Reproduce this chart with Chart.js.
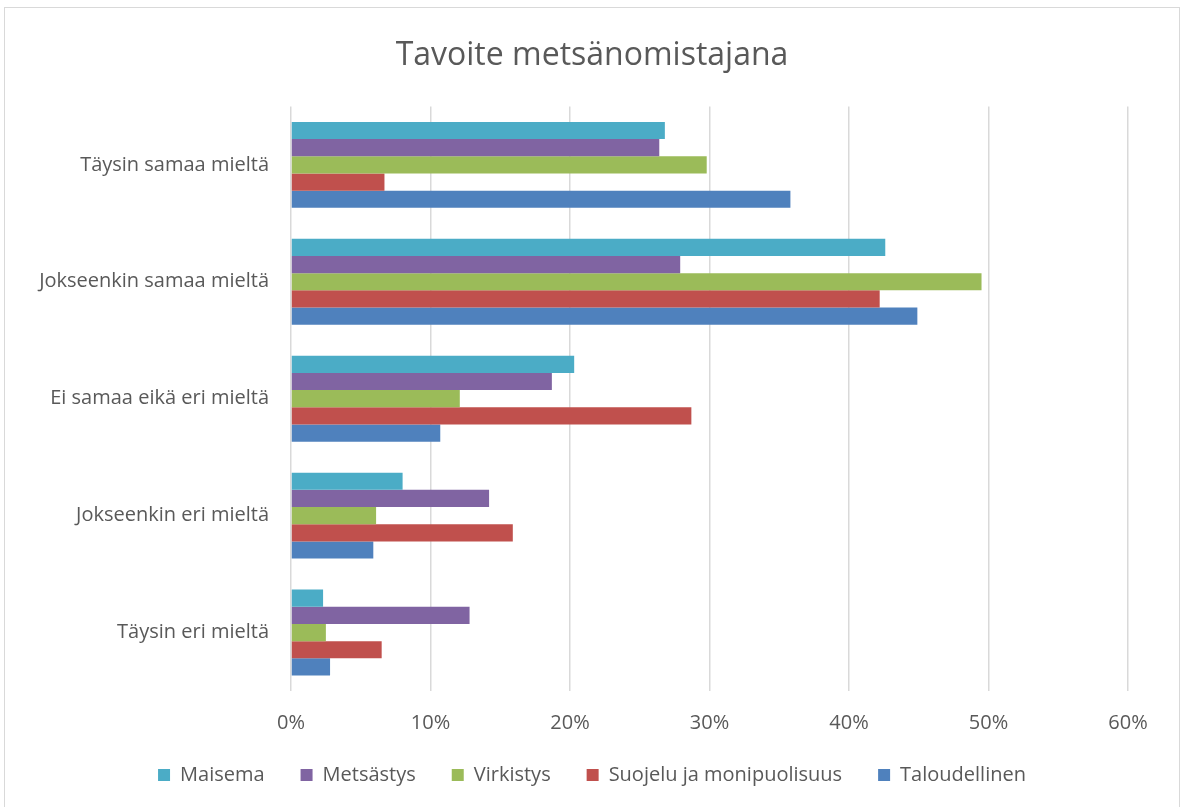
<!DOCTYPE html>
<html>
<head>
<meta charset="utf-8">
<script src="https://cdn.jsdelivr.net/npm/chart.js@4"></script>
<style>
  html, body { margin: 0; padding: 0; background: #fff; }
  #frame { position: absolute; left: 4px; top: 7px; width: 1174px; height: 820px; border: 1px solid #d9d9d9; }
  #wrap { position: absolute; left: 0; top: 0; width: 1184px; height: 807px; }
</style>
</head>
<body>
<div id="frame"></div>
<div id="wrap"><canvas id="chart"></canvas></div>
<script>
// answer categories, top to bottom
const categories = ['Täysin samaa mieltä', 'Jokseenkin samaa mieltä', 'Ei samaa eikä eri mieltä', 'Jokseenkin eri mieltä', 'Täysin eri mieltä'];
// percent of respondents per goal
const maisema = [26.8, 42.6, 20.3, 8.0, 2.3];
const metsastys = [26.4, 27.9, 18.7, 14.2, 12.8];
const virkistys = [29.8, 49.5, 12.1, 6.1, 2.5];
const suojelu = [6.7, 42.2, 28.7, 15.9, 6.5];
const taloudellinen = [35.8, 44.9, 10.7, 5.9, 2.8];
const xTicks = [0, 10, 20, 30, 40, 50, 60];

const textColor = '#595959';
const font = '"Open Sans", sans-serif';

function series(label, data, color) {
    return { label: label, data: data, backgroundColor: color, borderWidth: 0 };
}

const ctx = document.getElementById('chart').getContext('2d');
new Chart(ctx, {
    type: 'bar',
    data: {
        labels: categories,
        datasets: [
            series('Maisema', maisema, '#4bacc6'),
            series('Metsästys', metsastys, '#8064a2'),
            series('Virkistys', virkistys, '#9bbb59'),
            series('Suojelu ja monipuolisuus', suojelu, '#c0504d'),
            series('Taloudellinen', taloudellinen, '#4f81bd')
        ]
    },
    options: {
        indexAxis: 'y',
        responsive: true,
        maintainAspectRatio: false,
        animation: false,
        layout: { padding: { left: 0, right: 0, top: 0, bottom: 12 } },
        datasets: { bar: { categoryPercentage: 0.735, barPercentage: 1.0 } },
        scales: {
            x: {
                min: 0,
                max: 60,
                afterBuildTicks: function (axis) {
                    axis.ticks = xTicks.map(v => ({ value: v }));
                },
                ticks: {
                    color: textColor,
                    font: { family: font, size: 20 },
                    padding: 20,
                    callback: v => v + '%'
                },
                grid: { color: '#d9d9d9', lineWidth: 1.5, drawTicks: false },
                border: { display: false }
            },
            y: {
                afterFit: function (axis) { axis.width = 291; },
                ticks: {
                    color: textColor,
                    font: { family: font, size: 20 },
                    padding: 22
                },
                grid: { display: false, drawTicks: false },
                border: { display: false }
            },
            // empty right axis, only reserves the margin on the right
            yRight: {
                type: 'category',
                position: 'right',
                afterFit: function (axis) { axis.width = 56; },
                ticks: { display: false },
                grid: { display: false, drawTicks: false },
                border: { display: false }
            }
        },
        plugins: {
            title: {
                display: true,
                text: 'Tavoite metsänomistajana',
                color: textColor,
                font: { family: font, size: 32, weight: 'normal' },
                padding: { top: 37, bottom: 31 }
            },
            legend: {
                position: 'bottom',
                labels: {
                    color: textColor,
                    font: { family: font, size: 20 },
                    boxWidth: 12,
                    boxHeight: 12,
                    padding: 10,
                    // trailing spaces widen the gap between items without a taller legend
                    generateLabels: function (chart) {
                        const items = Chart.defaults.plugins.legend.labels.generateLabels(chart);
                        items.forEach((it, i) => {
                            if (i < items.length - 1) it.text = it.text + '     ';
                        });
                        return items;
                    }
                }
            },
            tooltip: { enabled: false }
        }
    }
});
</script>
</body>
</html>
